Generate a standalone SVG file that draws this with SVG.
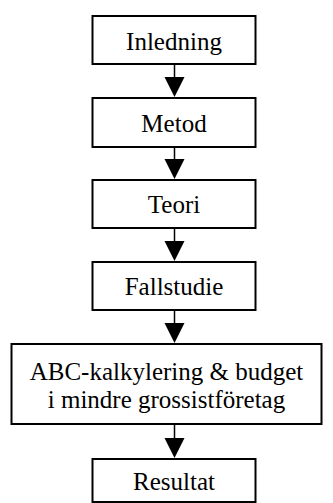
<svg xmlns="http://www.w3.org/2000/svg" width="333" height="503" viewBox="0 0 333 503">
  <style>
    .box { fill: #ffffff; stroke: #000000; stroke-width: 2; }
    .lbl { font-family: "Liberation Serif", "Times New Roman", serif; font-size: 25px; fill: #000000; text-anchor: middle; }
    .link { stroke: #000000; stroke-width: 1.5; fill: none; }
    .head { fill: #000000; }
  </style>
  <rect width="333" height="503" fill="#ffffff"/>

  <g id="connectors">
    <line class="link" x1="174.5" y1="64" x2="174.5" y2="78"/>
    <polygon class="head" points="164.5,77 184.5,77 174.5,97"/>
    <line class="link" x1="174.5" y1="147" x2="174.5" y2="160"/>
    <polygon class="head" points="164.5,159 184.5,159 174.5,179"/>
    <line class="link" x1="174.5" y1="228" x2="174.5" y2="242"/>
    <polygon class="head" points="164.5,241 184.5,241 174.5,261"/>
    <line class="link" x1="174.5" y1="310" x2="174.5" y2="324"/>
    <polygon class="head" points="164.5,323 184.5,323 174.5,343"/>
    <line class="link" x1="174.5" y1="424" x2="174.5" y2="439"/>
    <polygon class="head" points="164.5,438 184.5,438 174.5,458"/>
  </g>

  <g id="inledning">
    <rect class="box" x="92.5" y="16" width="163" height="48"/>
    <text class="lbl" x="174" y="50">Inledning</text>
  </g>
  <g id="metod">
    <rect class="box" x="92.5" y="98" width="163" height="49"/>
    <text class="lbl" x="174" y="132">Metod</text>
  </g>
  <g id="teori">
    <rect class="box" x="92.5" y="180" width="163" height="48"/>
    <text class="lbl" x="174" y="213">Teori</text>
  </g>
  <g id="fallstudie">
    <rect class="box" x="92.5" y="262" width="163" height="48"/>
    <text class="lbl" x="174" y="295">Fallstudie</text>
  </g>
  <g id="abc">
    <rect class="box" x="11.5" y="344" width="310" height="80"/>
    <text class="lbl" x="166.5" y="380">ABC-kalkylering &amp; budget</text>
    <text class="lbl" x="166.5" y="408">i mindre grossistföretag</text>
  </g>
  <g id="resultat">
    <rect class="box" x="92.5" y="459" width="163" height="43"/>
    <text class="lbl" x="174" y="490">Resultat</text>
  </g>
</svg>
